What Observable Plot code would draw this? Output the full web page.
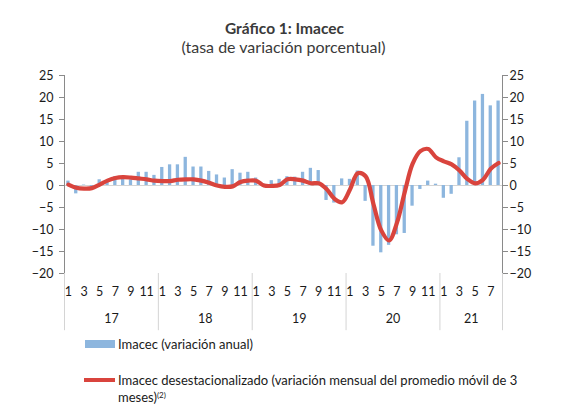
<!DOCTYPE html>
<html>
<head>
<meta charset="utf-8">
<script src="https://cdn.jsdelivr.net/npm/d3@7"></script>
<script src="https://cdn.jsdelivr.net/npm/@observablehq/plot@0.6"></script>
<style>
  body { margin: 0; background: #fff; font-family: Lato, "Open Sans", sans-serif; }
  #wrap { position: relative; width: 567px; height: 417px; overflow: hidden; }
  .t { position: absolute; left: 0; width: 567px; text-align: center; color: #3a3a3a; white-space: nowrap; }
  #title { top: 19px; font-size: 15.5px; font-weight: bold; left: 1px; }
  #sub { top: 37px; font-size: 16px; }
  #chart { position: absolute; left: 0; top: 60px; }
  .lg { position: absolute; font-size: 13px; color: #1a1a1a; line-height: 16.5px; white-space: nowrap; }
  .sw { position: absolute; }
</style>
</head>
<body>
<div id="wrap">
  <div id="title" class="t">Gráfico 1: Imacec</div>
  <div id="sub" class="t">(tasa de variación porcentual)</div>
  <div id="chart"></div>
  <div class="sw" style="left:85px;top:340px;width:30px;height:8px;background:#8db6de"></div>
  <div class="lg" style="left:118px;top:336px">Imacec (variación anual)</div>
  <div class="sw" style="left:84px;top:378px;width:31px;height:3.5px;background:#d9443d"></div>
  <div class="lg" style="left:118px;top:372px">Imacec desestacionalizado (variación mensual del promedio móvil de 3<br>meses)<sup style="font-size:8px;vertical-align:4px;line-height:0">(2)</sup></div>
</div>
<script>
// Years and months shown
const years = ["17", "18", "19", "20", "21"];
const monthsPerYear = [12, 12, 12, 12, 8];

// Imacec (variación anual), Jan 2017 – Aug 2021
const imacecAnual = [
  1.0, -1.9, 0.1, -0.2, 1.3, 1.0, 2.0, 1.9, 1.3, 3.0, 3.0, 2.3,
  4.1, 4.7, 4.7, 6.4, 4.2, 4.2, 3.2, 2.4, 1.7, 3.6, 2.8, 3.0,
  1.7, 0.3, 1.1, 1.4, 2.0, 1.9, 3.0, 3.9, 3.4, -3.4, -4.0, 1.5,
  1.4, 3.3, -3.6, -13.8, -15.3, -13.6, -11.2, -10.9, -4.7, -0.9, 1.0, 0.3,
  -2.9, -2.0, 6.3, 14.6, 19.2, 20.7, 18.1, 19.2
];

// Imacec desestacionalizado (variación mensual del promedio móvil de 3 meses)
const imacecDesest = [
  0.2, -0.5, -0.7, -0.6, 0.2, 1.1, 1.7, 1.9, 1.8, 1.6, 1.4, 1.1,
  1.0, 1.0, 1.3, 1.4, 1.4, 1.1, 0.6, 0.0, -0.3, -0.2, 0.8, 1.1,
  1.1, 0.0, -0.1, 0.1, 1.4, 1.4, 1.1, 0.5, 0.5, -0.8, -3.0, -3.8,
  -0.9, 2.8, 2.1, -4.2, -10.2, -12.5, -8.5, -1.5, 4.9, 7.8, 8.3, 6.4,
  5.5, 4.8, 3.4, 1.5, 0.5, 1.3, 3.8, 5.1
];

const yTicks = [-20, -15, -10, -5, 0, 5, 10, 15, 20, 25];

// Build table
const data = [];
const yearInfo = [];
let idx = 0;
years.forEach((yr, k) => {
  const start = idx;
  for (let m = 1; m <= monthsPerYear[k]; m++) {
    data.push({i: idx, year: yr, month: m, bar: imacecAnual[idx], line: imacecDesest[idx]});
    idx++;
  }
  yearInfo.push({year: yr, start, end: idx});
});
const n = data.length;
const bounds = [0, ...yearInfo.map(d => d.end)];
const monthLabels = data.filter(d => d.month % 2 === 1);

const blue = "#8db6de";
const red = "#d9443d";
const axisGray = "#8a8a8a";

const chart = Plot.plot({
  width: 567,
  height: 275,
  marginLeft: 64,
  marginRight: 65,
  marginTop: 15,
  marginBottom: 62,
  style: {fontFamily: "Lato, 'Open Sans', sans-serif", fontSize: "12.5px", color: "#1a1a1a", background: "transparent", overflow: "visible"},
  x: {domain: [0, n], axis: null},
  y: {domain: [-20, 25], axis: null},
  marks: [
    Plot.ruleY([0], {stroke: "#d4d4d4", strokeWidth: 1.2}),
    Plot.rectY(data, {x1: d => d.i + 0.29, x2: d => d.i + 0.71, y: "bar", fill: blue}),
    Plot.line(data, {x: d => d.i + 0.5, y: "line", stroke: red, strokeWidth: 4.2, curve: "catmull-rom"}),
    Plot.ruleX([0, n], {y1: -20, y2: 25, stroke: axisGray}),
    Plot.axisY({anchor: "left", ticks: yTicks, tickSize: 5, tickPadding: 6, stroke: axisGray, fill: "#1a1a1a", fontSize: 12.5}),
    Plot.axisY({anchor: "right", ticks: yTicks, tickSize: 5, tickPadding: 2, stroke: axisGray, fill: "#1a1a1a", fontSize: 12.5}),
    Plot.ruleX(bounds, {y1: -20, y2: -33, stroke: "#d4d4d4"}),
    Plot.text(monthLabels, {x: d => d.i + 0.5, y: -20, dy: 18, text: d => String(d.month), fill: "#1a1a1a", fontSize: 12.5}),
    Plot.text(yearInfo, {x: d => (d.start + d.end) / 2, y: -20, dy: 45, text: "year", fill: "#1a1a1a", fontSize: 12.5})
  ]
});
document.getElementById("chart").appendChild(chart);
</script>
</body>
</html>
